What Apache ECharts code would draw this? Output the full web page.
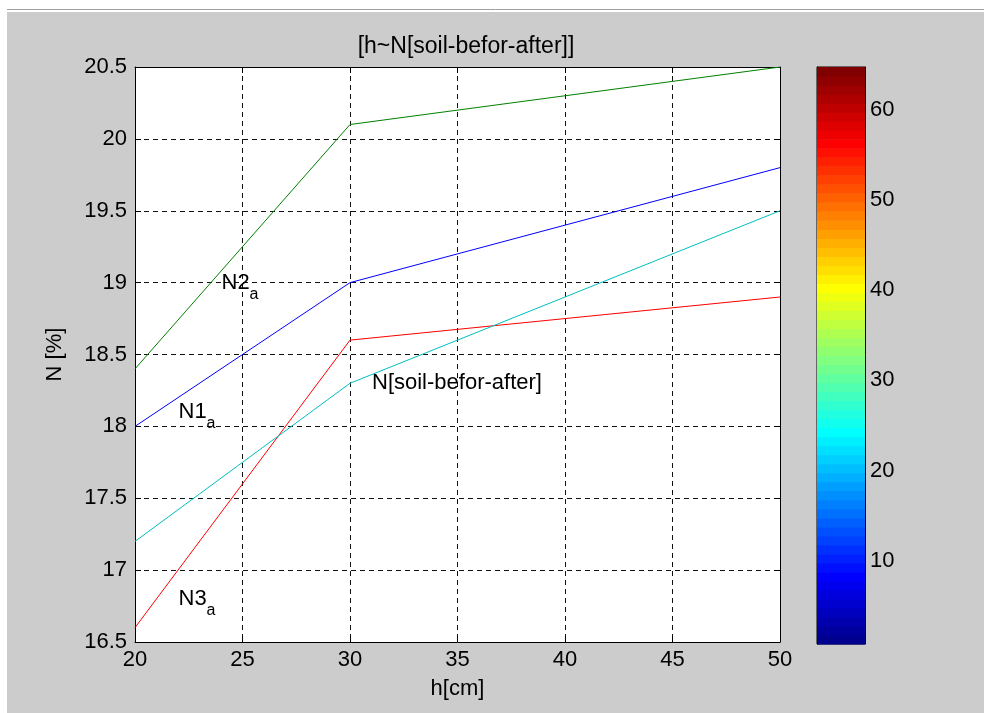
<!DOCTYPE html>
<html><head><meta charset="utf-8">
<script src="https://cdn.jsdelivr.net/npm/echarts@6/dist/echarts.min.js"></script>
<style>html,body{margin:0;padding:0;background:#fff;}#c{width:984px;height:713px;}</style>
</head><body><div id="c"></div>
<script>
// ---- data ----
const hValues = [20, 30, 50];
const n1a = [18.0, 19.0, 19.8];
const n2a = [18.4, 20.1, 20.5];
const n3a = [16.6, 18.6, 18.9];
const nSoil = [17.2, 18.3, 19.5];
const xTicks = [20, 25, 30, 35, 40, 45, 50];
const yTicks = [16.5, 17, 17.5, 18, 18.5, 19, 19.5, 20, 20.5];
const colorbarTicks = [10, 20, 30, 40, 50, 60];
const colorbarLevels = [1,2,3,4,5,6,7,8,9,10,11,12,13,14,15,16,17,18,19,20,21,22,23,24,25,26,27,28,29,30,31,32,
  33,34,35,36,37,38,39,40,41,42,43,44,45,46,47,48,49,50,51,52,53,54,55,56,57,58,59,60,61,62,63,64];
const annotationTexts = ['N2', 'N1', 'N3', 'N[soil-befor-after]'];
const annotationSubs = ['a', 'a', 'a', ''];
const annotationX = [24, 22, 22, 31];
const annotationY = [19, 18.1, 16.8, 18.3];
const titleText = '[h~N[soil-befor-after]]';
const xName = 'h[cm]';
const yName = 'N [%]';

// ---- style helpers ----
function jetColormap(m) {
  const n = Math.ceil(m / 4);
  const u = [];
  for (let i = 1; i <= n; i++) u.push(i / n);
  for (let i = 1; i < n; i++) u.push(1);
  for (let i = n; i >= 1; i--) u.push(i / n);
  const g0 = Math.ceil(n / 2) - (m % 4 === 1 ? 1 : 0);
  const R = new Array(m).fill(0), G = new Array(m).fill(0), B = new Array(m).fill(0);
  for (let k = 0; k < u.length; k++) {
    const g = g0 + k + 1, r = g + n, b = g - n;
    if (g >= 1 && g <= m) G[g - 1] = u[k];
    if (r >= 1 && r <= m) R[r - 1] = u[k];
    if (b >= 1 && b <= m) B[b - 1] = u[k];
  }
  const out = [];
  for (let i = 0; i < m; i++) out.push('rgb(' + Math.round(R[i] * 255) + ',' + Math.round(G[i] * 255) + ',' + Math.round(B[i] * 255) + ')');
  return out;
}
const cmap = jetColormap(colorbarLevels.length);
const FONT = 'Liberation Sans, Arial, sans-serif';
const FS = 22;

function pairs(xs, ys) { return xs.map((x, i) => [x, ys[i]]); }

const annData = annotationTexts.map((t, i) => ({
  value: [annotationX[i], annotationY[i]],
  label: { formatter: annotationSubs[i] ? '{n|' + t + '}{s|' + annotationSubs[i] + '}' : '{p|' + t + '}' }
}));

const chart = echarts.init(document.getElementById('c'), null, { renderer: 'canvas' });
const lineStyleBase = { width: 1 };
const option = {
  backgroundColor: '#ffffff',
  animation: false,
  textStyle: { fontFamily: FONT },
  graphic: [
    { type: 'rect', z: -100, shape: { x: 7, y: 12, width: 977, height: 701 }, style: { fill: '#cccccc' } },
    { type: 'line', z: -100, shape: { x1: 7, y1: 9.5, x2: 984, y2: 9.5 }, style: { stroke: '#a0a0a0', lineWidth: 1 } }
  ],
  title: {
    text: titleText, left: 461, top: 30, textAlign: 'center',
    textStyle: { fontFamily: FONT, fontSize: 23, fontWeight: 'normal', color: '#000' }
  },
  grid: [
    { left: 135, top: 67, width: 645, height: 575, show: true, backgroundColor: '#fff', borderWidth: 0 },
    { left: 817, top: 67, width: 48, height: 577, show: true, backgroundColor: 'transparent', borderColor: '#000', borderWidth: 1 }
  ],
  xAxis: [
    {
      gridIndex: 0, type: 'value', min: xTicks[0], max: xTicks[xTicks.length - 1], interval: 5,
      name: xName, nameLocation: 'middle', nameGap: 36,
      nameTextStyle: { fontFamily: FONT, fontSize: FS, color: '#000' },
      axisLine: { show: true, onZero: false, lineStyle: { color: '#000', width: 1 } },
      axisTick: { show: true, inside: true, length: 6, lineStyle: { color: '#000' } },
      axisLabel: { fontFamily: FONT, fontSize: FS, color: '#000', margin: 7 },
      splitLine: { show: true, lineStyle: { color: '#111', width: 1, type: [5, 4] } }
    },
    {
      gridIndex: 0, type: 'value', position: 'top', min: xTicks[0], max: xTicks[xTicks.length - 1], interval: 5,
      axisLine: { show: true, onZero: false, lineStyle: { color: '#000', width: 1 } },
      axisTick: { show: true, inside: true, length: 6, lineStyle: { color: '#000' } },
      axisLabel: { show: false }, splitLine: { show: false }
    },
    { gridIndex: 1, type: 'value', min: 0, max: 1, show: false }
  ],
  yAxis: [
    {
      gridIndex: 0, type: 'value', min: yTicks[0], max: yTicks[yTicks.length - 1], interval: 0.5,
      name: yName, nameLocation: 'middle', nameGap: 69,
      nameTextStyle: { fontFamily: FONT, fontSize: FS, color: '#000' },
      axisLine: { show: true, onZero: false, lineStyle: { color: '#000', width: 1 } },
      axisTick: { show: true, inside: true, length: 6, lineStyle: { color: '#000' } },
      axisLabel: { fontFamily: FONT, fontSize: FS, color: '#000', margin: 8 },
      splitLine: { show: true, lineStyle: { color: '#111', width: 1, type: [5, 4] } }
    },
    {
      gridIndex: 0, type: 'value', position: 'right', min: yTicks[0], max: yTicks[yTicks.length - 1], interval: 0.5,
      axisLine: { show: true, onZero: false, lineStyle: { color: '#000', width: 1 } },
      axisTick: { show: true, inside: true, length: 6, lineStyle: { color: '#000' } },
      axisLabel: { show: false }, splitLine: { show: false }
    },
    {
      gridIndex: 1, type: 'value', position: 'right', min: 0.75, max: 64.75,
      axisLine: { show: true, onZero: false, lineStyle: { color: '#000', width: 1 } },
      axisTick: { show: true, inside: true, length: 6, customValues: colorbarTicks, lineStyle: { color: '#000', width: 1.5 } },
      axisLabel: { show: true, customValues: colorbarTicks, fontFamily: FONT, fontSize: FS, color: '#000', margin: 5 },
      splitLine: { show: false }
    },
    {
      gridIndex: 1, type: 'value', position: 'left', min: 0.75, max: 64.75,
      axisLine: { show: true, onZero: false, lineStyle: { color: '#000', width: 1 } },
      axisTick: { show: true, inside: true, length: 6, customValues: colorbarTicks, lineStyle: { color: '#000', width: 1.5 } },
      axisLabel: { show: false }, splitLine: { show: false }
    }
  ],
  series: [
    { type: 'line', name: 'N1a', xAxisIndex: 0, yAxisIndex: 0, data: pairs(hValues, n1a), showSymbol: false, symbol: 'none', lineStyle: Object.assign({ color: '#0000ff' }, lineStyleBase), z: 3 },
    { type: 'line', name: 'N2a', xAxisIndex: 0, yAxisIndex: 0, data: pairs(hValues, n2a), showSymbol: false, symbol: 'none', lineStyle: Object.assign({ color: '#008000' }, lineStyleBase), z: 3 },
    { type: 'line', name: 'N3a', xAxisIndex: 0, yAxisIndex: 0, data: pairs(hValues, n3a), showSymbol: false, symbol: 'none', lineStyle: Object.assign({ color: '#ff0000' }, lineStyleBase), z: 3 },
    { type: 'line', name: 'Nsoil', xAxisIndex: 0, yAxisIndex: 0, data: pairs(hValues, nSoil), showSymbol: false, symbol: 'none', lineStyle: Object.assign({ color: '#00bfbf' }, lineStyleBase), z: 3 },
    {
      type: 'scatter', xAxisIndex: 0, yAxisIndex: 0, symbolSize: 1, itemStyle: { color: 'rgba(0,0,0,0)' }, z: 4,
      silent: true,
      data: annData,
      label: {
        show: true, position: 'right', distance: 0, align: 'left', verticalAlign: 'middle',
        color: '#000', opacity: 1, textBorderWidth: 0,
        rich: {
          n: { fontFamily: FONT, fontSize: FS, color: '#000', verticalAlign: 'top', lineHeight: 22 },
          s: { fontFamily: FONT, fontSize: 16, color: '#000', verticalAlign: 'top', lineHeight: 16, padding: [15, 0, 0, 0] },
          p: { fontFamily: FONT, fontSize: FS, color: '#000', verticalAlign: 'middle', lineHeight: 22 }
        }
      },
      labelLayout: { hideOverlap: false }
    },
    {
      type: 'custom', xAxisIndex: 2, yAxisIndex: 2,
      data: colorbarLevels.map(l => [0, l]),
      encode: { x: 0, y: 1 },
      renderItem: function (params, api) {
        const v = api.value(1);
        const p1 = api.coord([0, v + 0.75]);
        const p2 = api.coord([1, v - 0.25]);
        return { type: 'rect', shape: { x: p1[0], y: p1[1], width: p2[0] - p1[0], height: p2[1] - p1[1] + 0.6 }, style: { fill: cmap[v - 1] } };
      },
      z: 1
    }
  ]
};
chart.setOption(option);
</script></body></html>
